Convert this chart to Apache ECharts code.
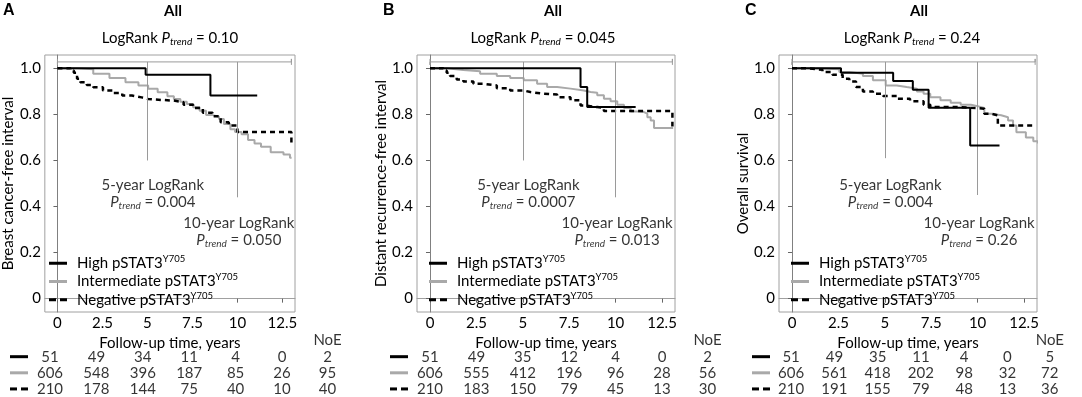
<!DOCTYPE html>
<html><head><meta charset="utf-8">
<script src="https://cdn.jsdelivr.net/npm/echarts@6/dist/echarts.min.js"></script>
<style>html,body{margin:0;padding:0;background:#fff}#c{width:1082px;height:397px}</style>
</head><body><div id="c"></div>
<script>
// ---------------- DATA ----------------
const groups = ['High pSTAT3', 'Intermediate pSTAT3', 'Negative pSTAT3'];
const groupSup = 'Y705';
const panelLetters = ['A', 'B', 'C'];
const panelTitles = ['All', 'All', 'All'];
const yNames = ['Breast cancer-free interval', 'Distant recurrence-free interval', 'Overall survival'];
const xName = 'Follow-up time, years';
const pOverall = ['0.10', '0.045', '0.24'];
const p5year = ['0.004', '0.0007', '0.004'];
const p10year = ['0.050', '0.013', '0.26'];
const xTicks = [0, 2.5, 5, 7.5, 10, 12.5];
const xTickLabels = ['0', '2.5', '5', '7.5', '10', '12.5'];
const yTicks = [0, 0.2, 0.4, 0.6, 0.8, 1.0];
const yTickLabels = ['0', '0.2', '0.4', '0.6', '0.8', '1.0'];
const followUpEnd = [13.0, 13.06, 13.1];
const landmarkYears = [5, 10];
const landmarkLow = [[0.6, 0.44], [0.6, 0.44], [0.61, 0.45]];
const noeHeader = 'NoE';

// Panel A – Kaplan-Meier (time in years, survival)
const highA_t = [0, 4.9, 8.5, 11.1];
const highA_s = [1, 0.972, 0.882, 0.882];
const interA_t = [0, 1.09, 1.99, 2.89, 3.78, 4.50, 5.04, 5.57, 6.11, 6.47, 6.83, 7.19, 7.54, 7.90, 8.26, 8.62, 8.98, 9.25, 9.61, 9.87, 10.23, 10.59, 10.95, 11.31, 11.85, 12.56, 12.92, 13.01];
const interA_s = [1, 0.996, 0.977, 0.958, 0.940, 0.926, 0.911, 0.896, 0.879, 0.867, 0.855, 0.845, 0.831, 0.816, 0.797, 0.790, 0.780, 0.758, 0.736, 0.724, 0.714, 0.689, 0.674, 0.660, 0.636, 0.626, 0.612, 0.612];
const negA_t = [0, 0.73, 0.91, 1.09, 1.27, 1.63, 1.99, 2.53, 3.06, 3.60, 4.14, 4.68, 5.04, 5.75, 6.47, 7.01, 7.54, 8.08, 8.62, 9.07, 9.52, 10.0, 13.0, 13.0];
const negA_s = [1, 0.991, 0.981, 0.955, 0.940, 0.928, 0.918, 0.904, 0.893, 0.882, 0.874, 0.867, 0.863, 0.860, 0.853, 0.842, 0.828, 0.807, 0.792, 0.766, 0.752, 0.724, 0.724, 0.665];

// Panel B
const highB_t = [0, 8.11, 8.47, 11.08];
const highB_s = [1, 0.919, 0.832, 0.832];
const interB_t = [0, 0.90, 1.80, 2.70, 3.60, 4.32, 5.05, 5.77, 6.31, 6.85, 7.57, 8.29, 8.65, 9.01, 9.37, 9.73, 10.09, 10.45, 10.81, 11.17, 11.53, 11.71, 11.89, 12.07, 13.1];
const interB_s = [1, 0.993, 0.987, 0.977, 0.967, 0.958, 0.948, 0.933, 0.919, 0.912, 0.904, 0.897, 0.894, 0.883, 0.868, 0.857, 0.842, 0.828, 0.813, 0.810, 0.803, 0.788, 0.774, 0.741, 0.741];
const negB_t = [0, 0.72, 0.90, 1.08, 1.44, 1.80, 2.34, 2.88, 3.60, 4.32, 5.05, 5.41, 6.13, 6.85, 7.57, 8.11, 8.29, 9.01, 9.37, 13.06, 13.06];
const negB_s = [1, 0.991, 0.981, 0.967, 0.952, 0.943, 0.933, 0.926, 0.914, 0.904, 0.897, 0.890, 0.886, 0.875, 0.861, 0.839, 0.832, 0.828, 0.815, 0.815, 0.748];

// Panel C
const highC_t = [0, 2.64, 5.45, 6.51, 7.36, 9.6, 11.18];
const highC_s = [1, 0.981, 0.945, 0.907, 0.829, 0.665, 0.665];
const interC_t = [0, 0.73, 1.64, 2.55, 3.09, 3.82, 4.36, 5.05, 5.64, 6.18, 6.73, 7.09, 7.45, 8.0, 8.55, 9.09, 9.64, 10.0, 10.36, 10.73, 11.27, 11.64, 11.91, 12.09, 12.6, 13.0, 13.25];
const interC_s = [1, 0.999, 0.996, 0.984, 0.977, 0.967, 0.948, 0.926, 0.919, 0.912, 0.900, 0.890, 0.875, 0.861, 0.851, 0.842, 0.836, 0.828, 0.803, 0.796, 0.788, 0.774, 0.752, 0.723, 0.700, 0.683, 0.674];
const negC_t = [0, 0.91, 1.64, 2.18, 2.73, 3.09, 3.45, 3.82, 4.36, 4.91, 5.64, 6.36, 7.09, 7.45, 8.91, 9.64, 10.0, 10.36, 10.73, 11.09, 13.1];
const negC_s = [1, 0.994, 0.984, 0.972, 0.955, 0.943, 0.919, 0.900, 0.890, 0.880, 0.868, 0.857, 0.842, 0.832, 0.829, 0.828, 0.825, 0.803, 0.796, 0.752, 0.752];

// Numbers at risk (rows: High, Intermediate, Negative; columns: xTicks) and number of events
const atRiskA = [[51, 49, 34, 11, 4, 0], [606, 548, 396, 187, 85, 26], [210, 178, 144, 75, 40, 10]];
const noeA = [2, 95, 40];
const atRiskB = [[51, 49, 35, 12, 4, 0], [606, 555, 412, 196, 96, 28], [210, 183, 150, 79, 45, 13]];
const noeB = [2, 56, 30];
const atRiskC = [[51, 49, 35, 11, 4, 0], [606, 561, 418, 202, 98, 32], [210, 191, 155, 79, 48, 13]];
const noeC = [5, 72, 36];

// ---------------- LAYOUT / STYLE ----------------
const FONT = 'Lato';
const GREY = '#a9a9a9';
const FS = 15;
const plotLeft = [37, 417, 779];
const PT = 55, PW = 258, PH = 257;
const XMIN = -0.7, XMAX = 13.2, YMIN = -0.058, YMAX = 1.058;
const pxPerYear = PW / (XMAX - XMIN);
const TW = 325, TTOP = 332.5, TH = 66;
const TXMAX = XMIN + TW / pxPerYear;
const NOE_X = 14.95;
const BR_Y = 1.028, BR_H = 0.013;
const yNameGap = [23, 25, 22];
const letterX = [3, 383, 745];
const titleX = [173, 553, 919];
const logrankX = [170, 543, 912];

const km = [
  [[highA_t, highA_s], [interA_t, interA_s], [negA_t, negA_s]],
  [[highB_t, highB_s], [interB_t, interB_s], [negB_t, negB_s]],
  [[highC_t, highC_s], [interC_t, interC_s], [negC_t, negC_s]]
];
const atRisk = [atRiskA, atRiskB, atRiskC];
const noe = [noeA, noeB, noeC];

const lineStyles = [
  {color: '#000', width: 2, type: 'solid'},
  {color: GREY, width: 2, type: 'solid'},
  {color: '#000', width: 2.5, type: [5, 4]}
];
const legendIcons = [
  'path://M0,0h18v3h-18z',
  'path://M0,0h18v3h-18z',
  'path://M0,0h7v3h-7zM11,0h7v3h-7z'
];

const txt = {fontFamily: FONT, fontSize: FS, color: '#000'};
const pRich = {
  a: {fontFamily: FONT, fontSize: FS, color: '#000', lineHeight: 17},
  i: {fontFamily: FONT, fontSize: FS, color: '#000', fontStyle: 'italic', lineHeight: 17},
  s: {fontFamily: FONT, fontSize: 10, color: '#000', fontStyle: 'italic', verticalAlign: 'bottom', lineHeight: 17}
};
function lookup(ticks, labels, v) {
  const k = ticks.findIndex(t => Math.abs(t - v) < 1e-9);
  return k >= 0 ? labels[k] : '';
}

const grid = [], xAxis = [], yAxis = [], series = [], legend = [], graphic = [];

for (let i = 0; i < 3; i++) {
  grid.push({left: plotLeft[i], top: PT, width: PW, height: PH, show: true, borderColor: '#a0a0a0', borderWidth: 1});
}
for (let i = 0; i < 3; i++) {
  grid.push({left: plotLeft[i], top: TTOP, width: TW, height: TH, show: false});
}

for (let i = 0; i < 3; i++) {
  xAxis.push({
    gridIndex: i, type: 'value', min: XMIN, max: XMAX,
    axisLine: {show: true, lineStyle: {color: '#a0a0a0', width: 1}},
    axisTick: {show: true, customValues: xTicks, length: 4, lineStyle: {color: '#666'}},
    axisLabel: {customValues: xTicks, formatter: v => lookup(xTicks, xTickLabels, v), margin: 4, ...txt},
    splitLine: {show: false},
    name: xName, nameLocation: 'middle', nameGap: 21, nameTextStyle: {...txt}
  });
  yAxis.push({
    gridIndex: i, type: 'value', min: YMIN, max: YMAX,
    axisLine: {show: true, lineStyle: {color: '#808080', width: 1}},
    axisTick: {show: true, customValues: yTicks, length: 4, lineStyle: {color: '#666'}},
    axisLabel: {customValues: yTicks, formatter: v => lookup(yTicks, yTickLabels, v), margin: 4, ...txt},
    splitLine: {show: false},
    name: yNames[i], nameLocation: 'middle', nameGap: yNameGap[i], nameTextStyle: {...txt}
  });
}
for (let i = 0; i < 3; i++) {
  xAxis.push({gridIndex: 3 + i, type: 'value', min: XMIN, max: TXMAX, show: false});
  yAxis.push({
    gridIndex: 3 + i, type: 'category', data: ['hdr', 'g0', 'g1', 'g2'], inverse: true,
    axisLine: {show: false}, axisTick: {show: false}, splitLine: {show: false},
    axisLabel: {
      margin: 9,
      formatter: v => ({hdr: '', g0: '{k| }', g1: '{g| }', g2: '{d| }{sp| }{d| }'})[v],
      rich: {
        k: {width: 18, height: 3, lineHeight: 3, fontSize: 1, backgroundColor: '#000'},
        g: {width: 18, height: 3, lineHeight: 3, fontSize: 1, backgroundColor: GREY},
        d: {width: 7, height: 3, lineHeight: 3, fontSize: 1, backgroundColor: '#000'},
        sp: {width: 4, height: 3, lineHeight: 3, fontSize: 1}
      }
    }
  });
}

for (let i = 0; i < 3; i++) {
  const end = followUpEnd[i];
  series.push({
    type: 'line', xAxisIndex: i, yAxisIndex: i, silent: true, symbol: 'none',
    data: [[0, BR_Y + BR_H], [0, BR_Y - BR_H], [0, BR_Y], [end, BR_Y], [end, BR_Y + BR_H], [end, BR_Y - BR_H]],
    lineStyle: {color: '#9a9a9a', width: 1}, z: 1,
    markLine: {
      silent: true, symbol: ['none', 'none'], label: {show: false},
      lineStyle: {color: '#9a9a9a', width: 1, type: 'solid'},
      emphasis: {disabled: true},
      data: landmarkYears.map((yr, k) => [{coord: [yr, BR_Y]}, {coord: [yr, landmarkLow[i][k]]}])
    }
  });
  [1, 2, 0].forEach(g => {
    const [t, s] = km[i][g];
    series.push({
      type: 'line', name: groups[g], xAxisIndex: i, yAxisIndex: i,
      data: t.map((x, k) => [x, s[k]]), step: 'end', symbol: 'none', silent: true,
      lineStyle: {...lineStyles[g]}, itemStyle: {color: lineStyles[g].color}, z: 3 + (g === 0 ? 2 : g === 2 ? 1 : 0)
    });
  });
  series.push({
    type: 'scatter', xAxisIndex: i, yAxisIndex: i, silent: true, symbolSize: 1,
    itemStyle: {color: 'rgba(0,0,0,0)'},
    data: [[5.3, 0.455, 0], [10.08, 0.289, 1]],
    label: {
      show: true, position: 'inside', align: 'center',
      formatter: p => p.value[2] === 0
        ? '{a|5-year LogRank}\n{i|P}{s|trend}{a| = ' + p5year[i] + '}'
        : '{a|10-year LogRank}\n{i|P}{s|trend}{a| = ' + p10year[i] + '}',
      rich: pRich
    }
  });
  for (let g = 0; g < 3; g++) {
    series.push({
      type: 'scatter', xAxisIndex: 3 + i, yAxisIndex: 3 + i, silent: true, symbolSize: 1,
      itemStyle: {color: 'rgba(0,0,0,0)'},
      data: xTicks.map((x, k) => [x, 'g' + g, atRisk[i][g][k]]).concat([[NOE_X, 'g' + g, noe[i][g]]]),
      label: {show: true, position: 'inside', formatter: p => String(p.value[2]), ...txt}
    });
  }
  series.push({
    type: 'scatter', xAxisIndex: 3 + i, yAxisIndex: 3 + i, silent: true, symbolSize: 1,
    itemStyle: {color: 'rgba(0,0,0,0)'},
    data: [[NOE_X, 'hdr', noeHeader]],
    label: {show: true, position: 'inside', formatter: p => String(p.value[2]), ...txt}
  });

  legend.push({
    data: groups.map((n, g) => ({name: n, icon: legendIcons[g]})),
    orient: 'vertical', left: plotLeft[i] + 7, top: 249, padding: 5,
    itemWidth: 18, itemHeight: 3, itemGap: 1.5, selectedMode: false,
    formatter: n => '{n|' + n + '}{sup|' + groupSup + '}',
    textStyle: {
      ...txt,
      rich: {
        n: {fontFamily: FONT, fontSize: FS, color: '#000', lineHeight: 18.5, padding: [0, 0, 0, 5]},
        sup: {fontFamily: FONT, fontSize: 9.5, color: '#000', verticalAlign: 'top', lineHeight: 18.5}
      }
    }
  });

  graphic.push({type: 'text', x: letterX[i], y: 3, style: {text: panelLetters[i], fill: '#000', font: 'bold 16px "Liberation Sans"'}});
  graphic.push({type: 'text', x: titleX[i], y: 11, style: {text: panelTitles[i], fill: '#000', font: 'bold 15px ' + FONT, align: 'center', verticalAlign: 'middle'}});
  graphic.push({
    type: 'text', x: logrankX[i], y: 38,
    style: {
      text: '{a|LogRank }{i|P}{s|trend}{a| = ' + pOverall[i] + '}',
      align: 'center', verticalAlign: 'middle',
      rich: {
        a: {fill: '#000', fontFamily: FONT, fontSize: FS, lineHeight: 17},
        i: {fill: '#000', fontFamily: FONT, fontSize: FS, fontStyle: 'italic', lineHeight: 17},
        s: {fill: '#000', fontFamily: FONT, fontSize: 10, fontStyle: 'italic', verticalAlign: 'bottom', lineHeight: 17}
      }
    }
  });
}

const chart = echarts.init(document.getElementById('c'), null, {renderer: 'canvas'});
chart.setOption({
  backgroundColor: '#fff',
  animation: false,
  grid, xAxis, yAxis, series, legend, graphic
});
</script>
</body></html>
